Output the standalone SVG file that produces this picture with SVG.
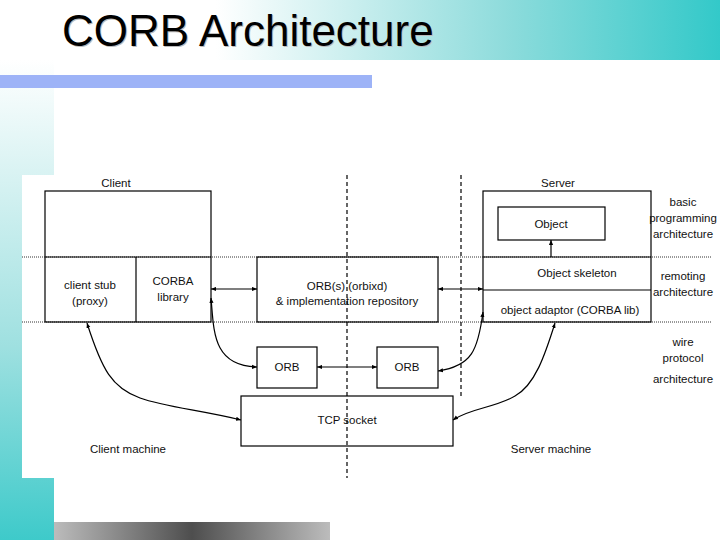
<svg xmlns="http://www.w3.org/2000/svg" width="720" height="540" viewBox="0 0 720 540">
<defs>
<linearGradient id="gTitle" x1="0" y1="0" x2="1" y2="0">
<stop offset="0" stop-color="#ffffff"/>
<stop offset="0.3" stop-color="#ffffff"/>
<stop offset="0.7" stop-color="#8fdcdc"/>
<stop offset="1" stop-color="#33c9c9"/>
</linearGradient>
<linearGradient id="gLeft" x1="0" y1="0" x2="0" y2="1">
<stop offset="0" stop-color="#ffffff"/>
<stop offset="0.6" stop-color="#9ee0e0"/>
<stop offset="1" stop-color="#3ecaca"/>
</linearGradient>
<linearGradient id="gGray" x1="0" y1="0" x2="1" y2="0">
<stop offset="0" stop-color="#bcbcbc"/>
<stop offset="0.5" stop-color="#4e4e4e"/>
<stop offset="1" stop-color="#bcbcbc"/>
</linearGradient>
<marker id="ah" viewBox="0 0 6 6" refX="6" refY="3" markerWidth="5" markerHeight="5" markerUnits="userSpaceOnUse" orient="auto-start-reverse">
<path d="M0,0.5 L6,3 L0,5.5 z" fill="#000"/>
</marker>
<style>
.box{fill:none;stroke:#000;stroke-width:1.2}
.lbl{font-family:"Liberation Sans",Arial,sans-serif;font-size:11.5px;fill:#111;text-anchor:middle}
.dot{stroke:#333;stroke-width:1;stroke-dasharray:1 1;fill:none}
.dash{stroke:#000;stroke-width:1.2;stroke-dasharray:4 3;fill:none}
.con{stroke:#000;stroke-width:1.2;fill:none;marker-start:url(#ah);marker-end:url(#ah)}
.con1{stroke:#000;stroke-width:1.2;fill:none;marker-end:url(#ah)}
</style>
</defs>
<rect width="720" height="540" fill="#ffffff"/>
<g id="background">
<rect x="0" y="0" width="720" height="60" fill="url(#gTitle)"/>
<rect x="0" y="60" width="54" height="480" fill="url(#gLeft)"/>
<rect x="0" y="75" width="372" height="13" fill="#9db3f7"/>
<rect x="54" y="522" width="276" height="18" fill="url(#gGray)"/>
<rect x="22" y="175" width="698" height="303" fill="#ffffff"/>
</g>
<text x="62" y="46" font-family="'Liberation Sans',Arial,sans-serif" font-size="44" fill="#000" style="text-shadow:1px 1px 0 #bbbbbb">CORB Architecture</text>
<g id="guides">
<line class="dot" x1="22" y1="257" x2="712" y2="257"/>
<line class="dot" x1="22" y1="322" x2="712" y2="322"/>
</g>
<g id="client">
<rect class="box" x="45" y="191" width="166" height="131"/>
<line class="box" x1="45" y1="257" x2="211" y2="257"/>
<line class="box" x1="136" y1="257" x2="136" y2="322"/>
<text class="lbl" x="116" y="187">Client</text>
<text class="lbl" x="90" y="289">client stub</text>
<text class="lbl" x="90" y="305">(proxy)</text>
<text class="lbl" x="173" y="285">CORBA</text>
<text class="lbl" x="173" y="301">library</text>
</g>
<g id="orbs">
<rect class="box" x="257" y="257" width="181" height="65"/>
<text class="lbl" x="347" y="290">ORB(s) (orbixd)</text>
<text class="lbl" x="347" y="305">&amp; implementation repository</text>
</g>
<g id="server">
<rect class="box" x="483" y="191" width="168" height="131"/>
<rect class="box" x="498" y="207" width="107" height="33"/>
<line class="box" x1="483" y1="257" x2="651" y2="257"/>
<line class="box" x1="483" y1="290" x2="651" y2="290"/>
<text class="lbl" x="558" y="187">Server</text>
<text class="lbl" x="551" y="228">Object</text>
<text class="lbl" x="577" y="277">Object skeleton</text>
<text class="lbl" x="570" y="314">object adaptor  (CORBA lib)</text>
</g>
<g id="orbLeft">
<rect class="box" x="257" y="347" width="60" height="41"/>
<text class="lbl" x="287" y="371">ORB</text>
</g>
<g id="orbRight">
<rect class="box" x="377" y="347" width="61" height="41"/>
<text class="lbl" x="407" y="371">ORB</text>
</g>
<g id="tcp">
<rect class="box" x="241" y="396" width="212" height="50"/>
<text class="lbl" x="347" y="424">TCP socket</text>
</g>
<g id="layerLabels">
<text class="lbl" x="683" y="206">basic</text>
<text class="lbl" x="683" y="222">programming</text>
<text class="lbl" x="683" y="238">architecture</text>
<text class="lbl" x="683" y="280">remoting</text>
<text class="lbl" x="683" y="296">architecture</text>
<text class="lbl" x="683" y="346">wire</text>
<text class="lbl" x="683" y="362">protocol</text>
<text class="lbl" x="683" y="383">architecture</text>
<text class="lbl" x="128" y="453">Client machine</text>
<text class="lbl" x="551" y="453">Server machine</text>
</g>
<g id="dividers">
<line class="dash" x1="347" y1="175" x2="347" y2="478"/>
<line class="dash" x1="461" y1="175" x2="461" y2="396"/>
</g>
<g id="connectors">
<line class="con" x1="211" y1="289" x2="257" y2="289"/>
<line class="con" x1="438" y1="289" x2="483" y2="289"/>
<line class="con" x1="317" y1="367" x2="377" y2="367"/>
<line class="con1" x1="551" y1="257" x2="551" y2="240"/>
<path class="con" d="M211,298 C214,330 212,366 257,367"/>
<path class="con" d="M438,371 C472,366 478,350 483,312"/>
<path class="con" d="M87,323 C102,370 112,388 140,398 C165,407 200,410 241,420"/>
<path class="con" d="M555,323 C545,355 535,385 515,396 C495,408 470,408 453,420"/>
</g>
</svg>
